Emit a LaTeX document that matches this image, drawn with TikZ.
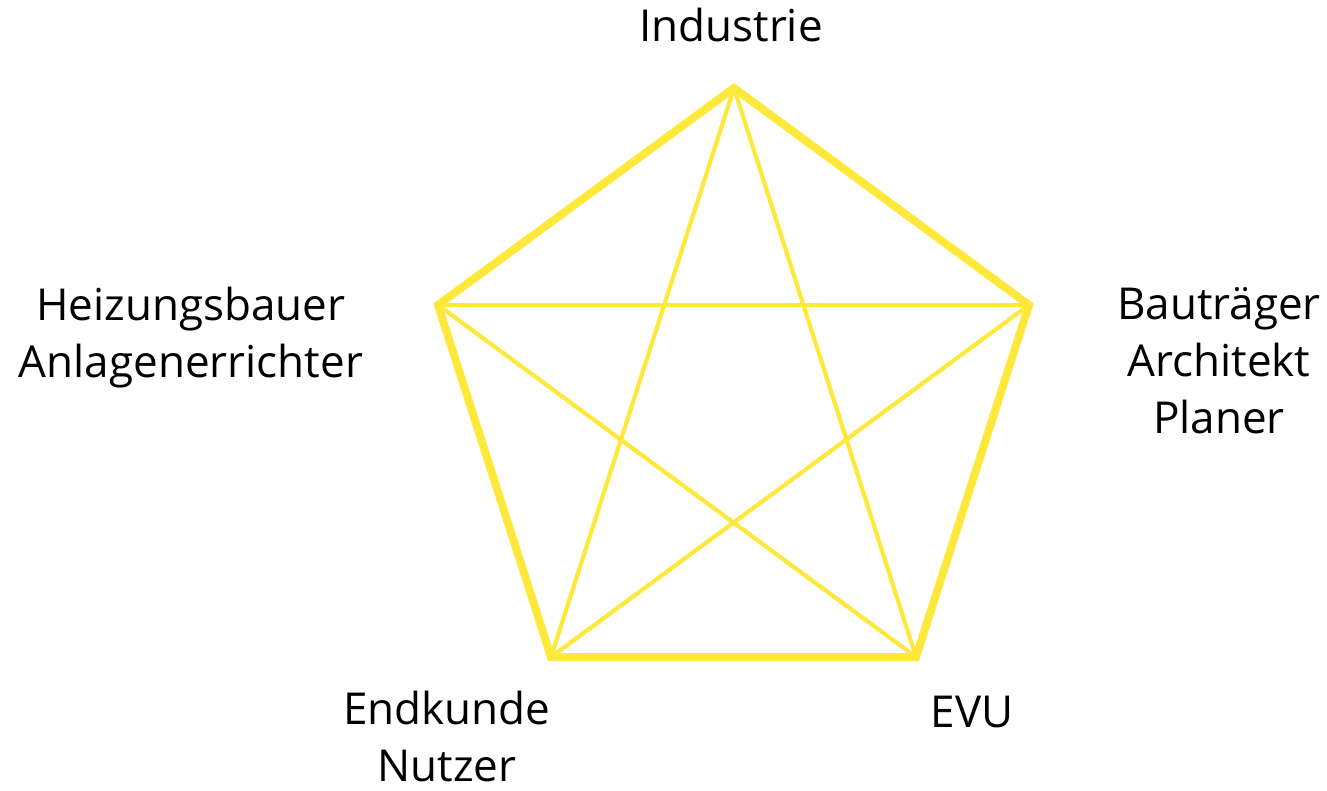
\documentclass[tikz,border=0pt]{standalone}
\usepackage{fontspec}
\setmainfont{Open Sans}
\definecolor{penta}{HTML}{FFE83C}

\tikzset{
  rand/.style={penta,line width=8pt,line join=miter},
  kante/.style={penta,line width=4.2pt},
  akteur/.style={font=\fontsize{44}{57}\selectfont,align=center,anchor=base,inner sep=0pt}
}

\begin{document}
\begin{tikzpicture}[x=1pt,y=-1pt]
  \useasboundingbox (0,0) rectangle (1327,791);
  % Ecken des Fuenfecks
  \coordinate (ind) at (734,88);
  \coordinate (bau) at (1029,305);
  \coordinate (evu) at (916,657);
  \coordinate (end) at (551,657);
  \coordinate (hei) at (438,305);

  % Diagonalen
  \draw[kante] (ind) -- (end);
  \draw[kante] (ind) -- (evu);
  \draw[kante] (hei) -- (bau);
  \draw[kante] (hei) -- (evu);
  \draw[kante] (bau) -- (end);
  % Rand
  \draw[rand] (ind) -- (bau) -- (evu) -- (end) -- (hei) -- cycle;

  % Beschriftungen (Anker: Grundlinie der letzten Zeile)
  \node[akteur] (tind) at (731,42) {Industrie};
  \node[akteur] (thei) at (191,377) {Heizungsbauer\\Anlagenerrichter};
  \node[akteur] (tbau) at (1219,433) {Bauträger\\Architekt\\Planer};
  \node[akteur] (tend) at (447,781) {Endkunde\\Nutzer};
  \node[akteur] (tevu) at (972,727) {EVU};
\end{tikzpicture}
\end{document}
